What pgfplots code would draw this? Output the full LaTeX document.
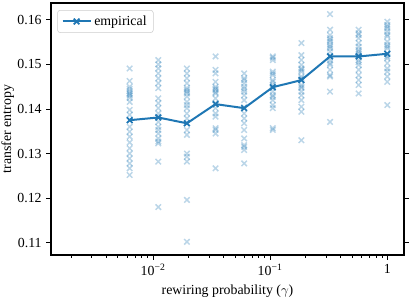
\documentclass[border=0pt]{standalone}
\usepackage{fontspec}
\setmainfont{Liberation Serif}
\usepackage{pgfplots}
\pgfplotsset{compat=1.18}
\usepackage{pgfplotstable}

\definecolor{tabblue}{RGB}{31,119,180}

% Transfer entropy of each run (scatter) for every rewiring probability
\pgfplotstableread{
gamma te
0.006310 0.1491
0.006310 0.1463
0.006310 0.1450
0.006310 0.1445
0.006310 0.1440
0.006310 0.1436
0.006310 0.1433
0.006310 0.1430
0.006310 0.1425
0.006310 0.1416
0.006310 0.1398
0.006310 0.1387
0.006310 0.1375
0.006310 0.1360
0.006310 0.1349
0.006310 0.1338
0.006310 0.1325
0.006310 0.1312
0.006310 0.1300
0.006310 0.1289
0.006310 0.1278
0.006310 0.1267
0.006310 0.1252
0.011076 0.1510
0.011076 0.1500
0.011076 0.1491
0.011076 0.1480
0.011076 0.1469
0.011076 0.1458
0.011076 0.1447
0.011076 0.1424
0.011076 0.1413
0.011076 0.1402
0.011076 0.1390
0.011076 0.1383
0.011076 0.1371
0.011076 0.1360
0.011076 0.1353
0.011076 0.1345
0.011076 0.1334
0.011076 0.1327
0.011076 0.1323
0.011076 0.1282
0.011076 0.1180
0.019448 0.1491
0.019448 0.1480
0.019448 0.1469
0.019448 0.1458
0.019448 0.1447
0.019448 0.1443
0.019448 0.1439
0.019448 0.1435
0.019448 0.1428
0.019448 0.1416
0.019448 0.1409
0.019448 0.1402
0.019448 0.1390
0.019448 0.1379
0.019448 0.1368
0.019448 0.1353
0.019448 0.1342
0.019448 0.1300
0.019448 0.1293
0.019448 0.1282
0.019448 0.1196
0.019448 0.1102
0.034145 0.1518
0.034145 0.1488
0.034145 0.1480
0.034145 0.1461
0.034145 0.1450
0.034145 0.1446
0.034145 0.1443
0.034145 0.1438
0.034145 0.1435
0.034145 0.1424
0.034145 0.1413
0.034145 0.1402
0.034145 0.1390
0.034145 0.1383
0.034145 0.1357
0.034145 0.1353
0.034145 0.1345
0.034145 0.1267
0.059948 0.1480
0.059948 0.1469
0.059948 0.1465
0.059948 0.1458
0.059948 0.1450
0.059948 0.1445
0.059948 0.1439
0.059948 0.1431
0.059948 0.1420
0.059948 0.1404
0.059948 0.1390
0.059948 0.1379
0.059948 0.1368
0.059948 0.1353
0.059948 0.1334
0.059948 0.1319
0.059948 0.1315
0.059948 0.1308
0.059948 0.1278
0.105240 0.1518
0.105240 0.1515
0.105240 0.1510
0.105240 0.1484
0.105240 0.1480
0.105240 0.1476
0.105240 0.1465
0.105240 0.1461
0.105240 0.1454
0.105240 0.1447
0.105240 0.1439
0.105240 0.1431
0.105240 0.1427
0.105240 0.1420
0.105240 0.1409
0.105240 0.1402
0.105240 0.1357
0.105240 0.1353
0.184780 0.1548
0.184780 0.1521
0.184780 0.1510
0.184780 0.1499
0.184780 0.1491
0.184780 0.1488
0.184780 0.1484
0.184780 0.1473
0.184780 0.1469
0.184780 0.1465
0.184780 0.1454
0.184780 0.1450
0.184780 0.1447
0.184780 0.1439
0.184780 0.1431
0.184780 0.1420
0.184780 0.1405
0.184780 0.1394
0.184780 0.1330
0.324420 0.1613
0.324420 0.1578
0.324420 0.1566
0.324420 0.1559
0.324420 0.1555
0.324420 0.1551
0.324420 0.1544
0.324420 0.1540
0.324420 0.1536
0.324420 0.1529
0.324420 0.1520
0.324420 0.1510
0.324420 0.1503
0.324420 0.1499
0.324420 0.1488
0.324420 0.1476
0.324420 0.1473
0.324420 0.1439
0.324420 0.1371
0.569580 0.1578
0.569580 0.1570
0.569580 0.1566
0.569580 0.1559
0.569580 0.1548
0.569580 0.1540
0.569580 0.1533
0.569580 0.1529
0.569580 0.1525
0.569580 0.1520
0.569580 0.1510
0.569580 0.1505
0.569580 0.1499
0.569580 0.1488
0.569580 0.1476
0.569580 0.1465
0.569580 0.1454
0.569580 0.1435
1.000000 0.1596
1.000000 0.1589
1.000000 0.1585
1.000000 0.1581
1.000000 0.1574
1.000000 0.1567
1.000000 0.1563
1.000000 0.1551
1.000000 0.1544
1.000000 0.1540
1.000000 0.1536
1.000000 0.1524
1.000000 0.1518
1.000000 0.1514
1.000000 0.1503
1.000000 0.1491
1.000000 0.1484
1.000000 0.1473
1.000000 0.1461
1.000000 0.1409
}\runs

% Mean transfer entropy over the runs
\pgfplotstableread{
gamma te
0.006310 0.1375
0.011076 0.1381
0.019448 0.1368
0.034145 0.1411
0.059948 0.1402
0.105240 0.1449
0.184780 0.1465
0.324420 0.1518
0.569580 0.1518
1.000000 0.1524
}\means

\begin{document}
\begin{tikzpicture}
\begin{semilogxaxis}[
  name=ax,
  scale only axis,
  width=264.75pt, height=189pt,
  xmin=0.001343, xmax=1.39,
  ymin=0.10724, ymax=0.1638,
  font=\fontsize{10.4}{12}\selectfont,
  /pgf/number format/assume math mode=true,
  xtick={0.01,0.1,1},
  xticklabels={10\textsuperscript{−2},10\textsuperscript{−1},1},
  minor xtick={0.002,0.003,0.004,0.005,0.006,0.007,0.008,0.009,
               0.02,0.03,0.04,0.05,0.06,0.07,0.08,0.09,
               0.2,0.3,0.4,0.5,0.6,0.7,0.8,0.9},
  ytick={0.11,0.12,0.13,0.14,0.15,0.16},
  yticklabel style={/pgf/number format/.cd, fixed, fixed zerofill, precision=2},
  scaled y ticks=false,
  xtick pos=bottom,
  ytick pos=both,
  tick align=outside,
  major tick length=3.5pt,
  minor tick length=2pt,
  every tick/.style={black, line width=0.8pt},
  minor tick style={black, line width=0.6pt},
  axis line style={black, line width=0.8pt},
  xlabel={rewiring probability ($\gamma$)},
  ylabel={transfer entropy},
  every axis y label/.style={at={(rel axis cs:0,0.5)}, xshift=-32.5pt,
    rotate=90, anchor=center},
  legend style={at={(0.0178,0.972)}, anchor=north west,
    draw=black!20, rounded corners=2pt, fill=white,
    font=\fontsize{10.4}{12}\selectfont, inner xsep=3pt, inner ysep=2pt},
  legend cell align=left,
  legend image code/.code={
    \draw[mark repeat=2, mark phase=2] plot coordinates {(0cm,0cm) (0.37cm,0cm) (0.74cm,0cm)};},
]
\addplot[only marks, mark=x, mark size=2.9pt, color=tabblue,
  mark options={line width=1.1pt, draw opacity=0.3}, forget plot]
  table[x=gamma, y=te] {\runs};
\addplot[color=tabblue, line width=1.5pt, mark=x, mark size=3pt,
  mark options={line width=1.3pt}]
  table[x=gamma, y=te] {\means};
\addlegendentry{empirical}
\end{semilogxaxis}
\pgfresetboundingbox
\path ([shift={(-38.25pt,-31.5pt)}]ax.south west) rectangle ([shift={(5.25pt,2.25pt)}]ax.north east);
\end{tikzpicture}
\end{document}
